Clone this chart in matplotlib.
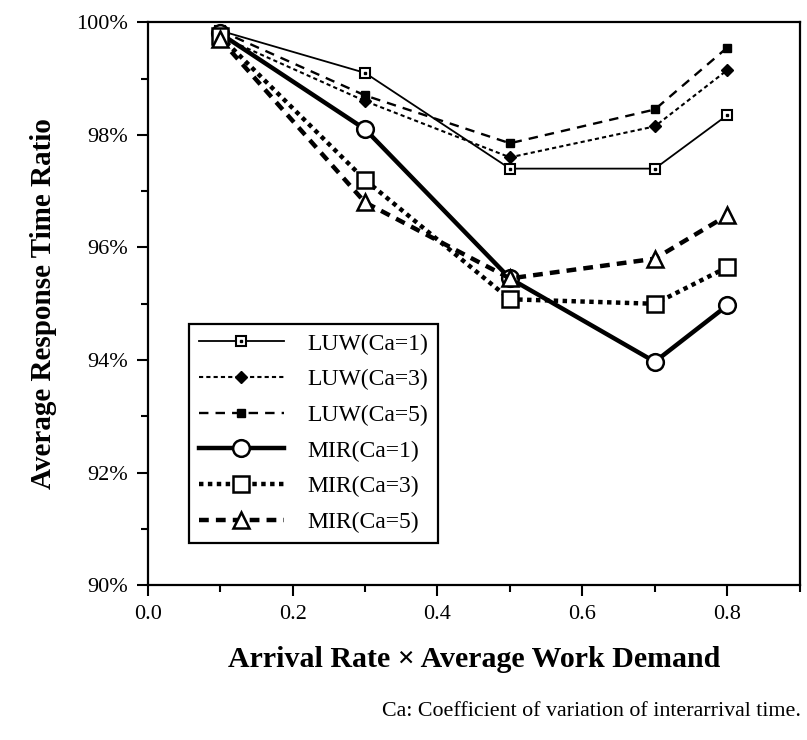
import numpy as np
import matplotlib.pyplot as plt
from matplotlib.ticker import MultipleLocator, FuncFormatter

plt.rcParams['font.family'] = ['Liberation Serif', 'DejaVu Serif']

# load (arrival rate x average work demand)
load = [0.1, 0.3, 0.5, 0.7, 0.8]

# average response time ratio, percent
luw_ca1 = [99.85, 99.1, 97.4, 97.4, 98.35]
luw_ca3 = [99.75, 98.6, 97.6, 98.15, 99.15]
luw_ca5 = [99.85, 98.7, 97.85, 98.45, 99.55]
mir_ca1 = [99.8, 98.1, 95.45, 93.97, 94.97]
mir_ca3 = [99.75, 97.2, 95.08, 95.0, 95.65]
mir_ca5 = [99.7, 96.8, 95.45, 95.8, 96.57]

labels = ["LUW(Ca=1)", "LUW(Ca=3)", "LUW(Ca=5)",
          "MIR(Ca=1)", "MIR(Ca=3)", "MIR(Ca=5)"]

fig = plt.figure(figsize=(8.07, 7.40), dpi=100)
ax = fig.add_axes([0.183, 0.209, 0.808, 0.761])

# LUW curves: thin lines, small markers
l1, = ax.plot(load, luw_ca1, '-', color='k', lw=1.3, marker='s', ms=7,
              mfc='white', mec='k', mew=1.5)
d1, = ax.plot(load, luw_ca1, ls='none', marker='s', ms=1.8, color='k')
l2, = ax.plot(load, luw_ca3, color='k', lw=1.5, ls=(0, (2, 1.5)),
              marker='D', ms=6, mfc='k', mec='k')
l3, = ax.plot(load, luw_ca5, color='k', lw=1.7, ls=(0, (4, 3)),
              marker='s', ms=6, mfc='k', mec='k')

# MIR curves: thick lines, big open markers
m1, = ax.plot(load, mir_ca1, '-', color='k', lw=3.2, marker='o', ms=12,
              mfc='white', mec='k', mew=1.8)
m2, = ax.plot(load, mir_ca3, color='k', lw=3.2, ls=(0, (1, 1)),
              marker='s', ms=12, mfc='white', mec='k', mew=1.8)
m3, = ax.plot(load, mir_ca5, color='k', lw=3.2, ls=(0, (2.2, 1.6)),
              marker='^', ms=12, mfc='white', mec='k', mew=1.8)

ax.set_xlim(0, 0.9)
ax.set_ylim(90, 100)
ax.xaxis.set_major_locator(MultipleLocator(0.2))
ax.xaxis.set_minor_locator(MultipleLocator(0.1))
ax.yaxis.set_major_locator(MultipleLocator(2))
ax.yaxis.set_minor_locator(MultipleLocator(1))
ax.xaxis.set_major_formatter(FuncFormatter(lambda v, p: f"{v:.1f}"))
ax.yaxis.set_major_formatter(FuncFormatter(lambda v, p: f"{v:.0f}%"))
ax.tick_params(which='both', direction='out', width=1.5, labelsize=16,
               top=False, right=False)
ax.tick_params(which='major', length=8, pad=6)
ax.tick_params(which='minor', length=5)
for s in ax.spines.values():
    s.set_linewidth(1.6)

ax.set_xlabel("Arrival Rate \u00d7 Average Work Demand", fontsize=21.5,
              fontweight='bold', labelpad=16)
ax.set_ylabel("Average Response Time Ratio", fontsize=21,
              fontweight='bold', labelpad=14)

leg = ax.legend([(l1, d1), l2, l3, m1, m2, m3], labels,
                loc='lower left', bbox_to_anchor=(0.064, 0.076),
                borderaxespad=0, fontsize=17, handlelength=3.6,
                handletextpad=1.0, labelspacing=0.6, borderpad=0.4,
                fancybox=False, edgecolor='k', framealpha=1)
leg.get_frame().set_linewidth(1.6)

fig.text(0.992, 0.025, "Ca: Coefficient of variation of interarrival time.",
         ha='right', va='bottom', fontsize=15.8)

plt.savefig("out.png", dpi=100)
